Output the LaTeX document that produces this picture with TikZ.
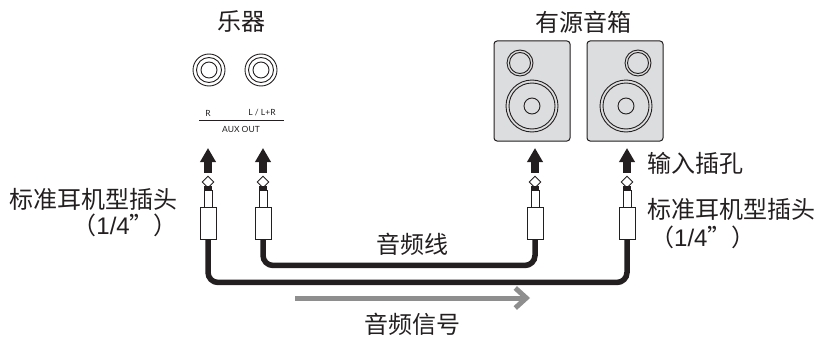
\documentclass[tikz,border=0pt]{standalone}
\usepackage{fontspec}
\setmainfont{Noto Sans CJK SC}
\newfontfamily\auxfont{Lato}
\newfontfamily\numfont{Liberation Sans}
\usetikzlibrary{arrows.meta,positioning,shapes.geometric}
\definecolor{Panel}{HTML}{DCDDDE}
\definecolor{Signal}{HTML}{8E8E8E}
\definecolor{Ink}{HTML}{231F20}
\newcommand{\sizelab}{（{\numfont 1/4}”）}
\tikzset{
  txt/.style={inner sep=0pt,font=\fontsize{24}{26}\selectfont,text=Ink},
  auxtxt/.style={inner sep=0pt,font=\auxfont\fontsize{8.5}{10}\selectfont,text=Ink},
  ringc/.style={circle,draw=Ink,line width=.9pt,inner sep=0pt,outer sep=0pt,minimum size=#1},
  speakerbox/.style={draw=Ink,line width=1pt,fill=Panel,rounded corners=3pt,minimum width=76pt,minimum height=100pt,inner sep=0pt},
  tipbox/.style={diamond,draw=Ink,line width=.9pt,fill=white,inner sep=0pt,minimum width=12pt,minimum height=12pt},
  ringbox/.style={fill=Ink,inner sep=0pt,outer sep=0pt,minimum width=8pt,minimum height=4pt},
  sleevebox/.style={draw=Ink,line width=.8pt,fill=white,inner sep=0pt,outer sep=0pt,minimum width=8pt,minimum height=17pt},
  bodybox/.style={draw=Ink,line width=.8pt,fill=white,inner sep=0pt,outer sep=0pt,minimum width=16pt,minimum height=32pt},
  plugarrow/.style={draw=Ink,line width=8pt,-{Triangle[length=14pt,width=15pt]}},
  cable/.style={draw=Ink,line width=5.5pt,rounded corners=10pt},
  signal/.style={draw=Signal,line width=5pt,-{Straight Barb[length=11pt,width=20pt,line width=5pt]}}
}
\begin{document}
\begin{tikzpicture}[x=1pt,y=-1pt]
  \useasboundingbox (0,0) rectangle (816,337);

  % instrument
  \node[txt] (instr) at (241,22) {乐器};
  \foreach \n/\px in {r/209,l/261}{
    \node[ringc=32pt] (jack\n) at (\px,70) {};
    \node[ringc=25pt] at (jack\n) {};
    \node[ringc=16pt] at (jack\n) {};
  }
  \node[auxtxt] (rlab) at (208,113) {R};
  \node[auxtxt] (llab) at (262,113) {L / L+R};
  \draw[Ink,line width=.9pt] (199,120) -- (284,120);
  \node[auxtxt] (aux) at (241,129) {AUX OUT};

  % speakers
  \node[txt] (spk) at (583.5,22) {有源音箱};
  \node[speakerbox] (spka) at (532,91) {};
  \node[speakerbox] (spkb) at (625,91) {};
  \foreach \n/\tx/\wx in {a/520/532,b/638/626}{
    \node[ringc=26pt] (tw\n) at (\tx,63) {};
    \node[ringc=21pt] at (tw\n) {};
    \node[ringc=52pt] (wf\n) at (\wx,106) {};
    \node[ringc=46pt] at (wf\n) {};
    \node[ringc=16pt] at (wf\n) {};
  }

  % plugs
  \foreach \n/\px in {a/208,b/263,c/535,d/627}{
    \node[tipbox] (tip\n) at (\px,182) {};
    \node[ringbox,below=-2pt of tip\n] (ring\n) {};
    \node[sleevebox,below=0pt of ring\n] (sleeve\n) {};
    \node[bodybox,below=0pt of sleeve\n] (body\n) {};
    \coordinate (top\n) at (\px,148);
    \draw[plugarrow,shorten <=3pt] (tip\n.north) -- (top\n);
  }

  % cables
  \draw[cable] (bodyb.south) -- ++(0,26) -| (bodyc.south);
  \draw[cable] (bodya.south) -- ++(0,43) -| (bodyd.south);
  \coordinate (sigs) at (295,298);
  \coordinate (sige) at (530,298);
  \draw[signal] (sigs) -- (sige);

  \node[txt,anchor=west] (inlab) at (647,163) {输入插孔};
  \node[txt,anchor=east] (lefta) at (178,199) {标准耳机型插头};
  \node[txt,anchor=east] (leftb) at (178,225) {\sizelab};
  \node[txt,anchor=west] (righta) at (647,209) {标准耳机型插头};
  \node[txt,anchor=west] (rightb) at (650,237) {\sizelab};
  \node[txt] (cablab) at (412.5,244.5) {音频线};
  \node[txt] (siglab) at (412,324.5) {音频信号};
\end{tikzpicture}
\end{document}
